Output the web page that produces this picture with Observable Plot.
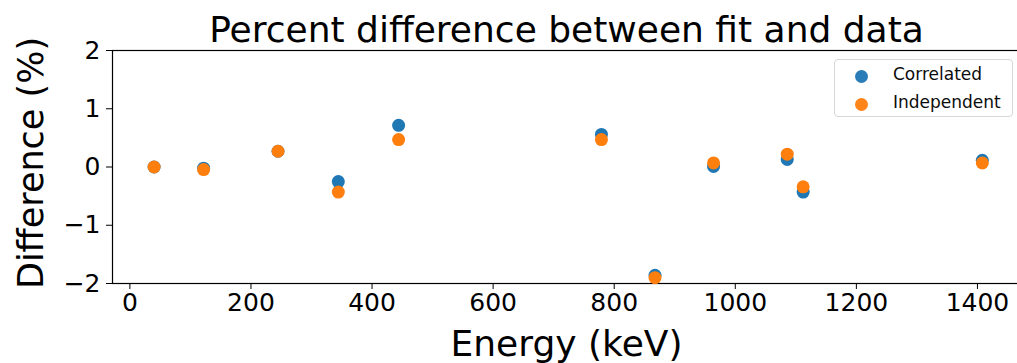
<!DOCTYPE html>
<html>
<head>
<meta charset="utf-8">
<script src="https://cdn.jsdelivr.net/npm/d3@7"></script>
<script src="https://cdn.jsdelivr.net/npm/@observablehq/plot@0.6"></script>
<style>
  html, body { margin: 0; padding: 0; background: #fff; overflow: hidden; }
  #wrap { position: relative; width: 1017px; height: 363px; overflow: hidden; font-family: "DejaVu Sans", sans-serif; }
  #wrap svg { max-width: none !important; }
  #legend { position: absolute; left: 834px; top: 59px; width: 179px; height: 58px; box-sizing: border-box;
    border: 1px solid #d5d5d5; border-radius: 4px; background: #fff; opacity: 0.95; }
  .item { position: absolute; left: 0; font-size: 17px; color: #000; white-space: nowrap; }
  .sw { position: absolute; width: 13px; height: 13px; border-radius: 50%; }
</style>
</head>
<body>
<div id="wrap"></div>
<script>
const titleText = "Percent difference between fit and data";
const xLabel = "Energy (keV)";
const yLabel = "Difference (%)";
const seriesNames = ["Correlated", "Independent"];
const seriesColors = ["#1f77b4", "#ff7f0e"];
const energies = [40, 121.8, 244.7, 344.3, 443.9, 778.9, 867.4, 964.1, 1085.8, 1112.1, 1408.0];
const correlated = [0.0, -0.02, 0.27, -0.25, 0.715, 0.56, -1.86, 0.01, 0.13, -0.43, 0.115];
const independent = [0.0, -0.045, 0.27, -0.43, 0.47, 0.47, -1.90, 0.07, 0.22, -0.34, 0.07];
const xTicks = [0, 200, 400, 600, 800, 1000, 1200, 1400];
const yTicks = [-2, -1, 0, 1, 2];

const corrData = energies.map((e, i) => ({e, v: correlated[i]}));
const indData = energies.map((e, i) => ({e, v: independent[i]}));

const chart = Plot.plot({
  width: 1030,
  height: 363,
  marginLeft: 112,
  marginRight: 4,
  marginTop: 50,
  marginBottom: 80,
  style: {fontFamily: "DejaVu Sans, sans-serif", fontSize: "25px", color: "#000", background: "#fff", maxWidth: "none"},
  x: {domain: [-28.7, 1481]},
  y: {domain: [-2, 2]},
  marks: [
    Plot.frame({stroke: "#000", strokeWidth: 1.2}),
    Plot.axisX({ticks: xTicks, tickSize: 6, tickPadding: 4, tickFormat: d3.format("d"), label: null, fontSize: 25}),
    Plot.axisY({ticks: yTicks, tickSize: 6, tickPadding: 6, tickFormat: d3.format("d"), label: null, fontSize: 25}),
    Plot.dot(corrData, {x: "e", y: "v", r: 6.5, fill: seriesColors[0], stroke: "none"}),
    Plot.dot(indData, {x: "e", y: "v", r: 6.5, fill: seriesColors[1], stroke: "none"}),
    Plot.text([titleText], {frameAnchor: "top", text: d => d, dy: -9, lineAnchor: "bottom", fontSize: 36, dx: -3}),
    Plot.text([xLabel], {frameAnchor: "bottom", text: d => d, dy: 72, lineAnchor: "bottom", fontSize: 36, dx: -3}),
    Plot.text([yLabel], {frameAnchor: "left", text: d => d, rotate: -90, textAnchor: "middle", dx: -70, dy: -4, lineAnchor: "bottom", fontSize: 35})
  ]
});
const wrap = document.getElementById("wrap");
wrap.appendChild(chart);

const legend = document.createElement("div");
legend.id = "legend";
seriesNames.forEach((name, i) => {
  const sw = document.createElement("span");
  sw.className = "sw";
  sw.style.background = seriesColors[i];
  sw.style.left = "20px";
  sw.style.top = (10 + i * 28) + "px";
  legend.appendChild(sw);
  const t = document.createElement("span");
  t.className = "item";
  t.textContent = name;
  t.style.left = "58px";
  t.style.top = (4 + i * 28) + "px";
  legend.appendChild(t);
});
wrap.appendChild(legend);
</script>
</body>
</html>
